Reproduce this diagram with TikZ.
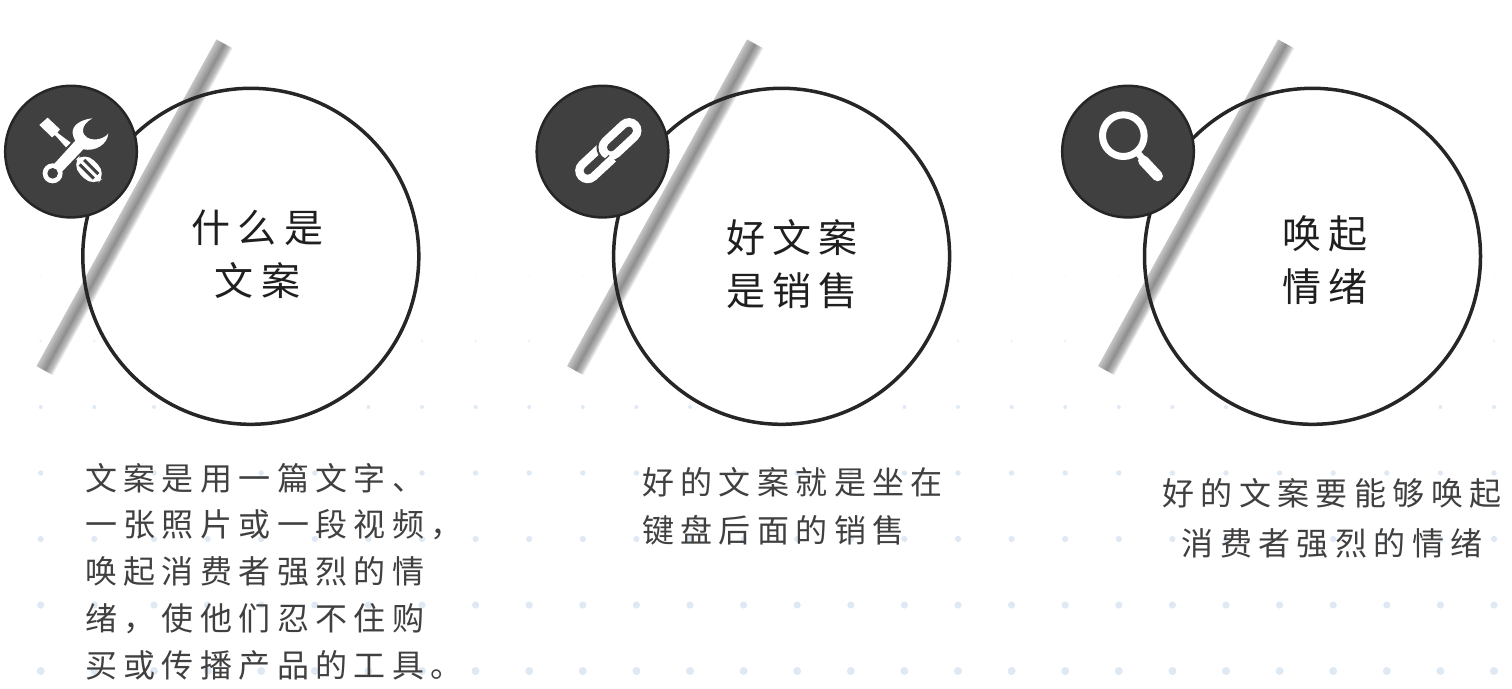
\documentclass[tikz,border=0pt]{standalone}
\usepackage{fontspec}
\newfontfamily\titlecjk[LetterSpace=19]{Noto Sans CJK SC}
\newfontfamily\bodycjk[LetterSpace=20]{Noto Sans CJK SC}
\definecolor{dotblue}{HTML}{DFE9F4}
\definecolor{ringdark}{HTML}{262626}
\definecolor{badgefill}{HTML}{404040}
\definecolor{bandA}{HTML}{C4C4C4}
\definecolor{bandB}{HTML}{8E8E8E}
\definecolor{bandC}{HTML}{BEBEBE}
\pgfdeclarehorizontalshading{bandshade}{100bp}{color(0bp)=(bandA); color(25bp)=(bandA); color(49bp)=(bandB); color(64bp)=(bandC); color(75bp)=(white); color(100bp)=(white)}
\tikzset{
  ringline/.style={draw=ringdark,line width=3.5pt},
  badgedisc/.style={fill=badgefill,draw=ringdark,line width=2.5pt},
  iconwhite/.style={fill=white,draw=none},
  icondark/.style={fill=badgefill,draw=none},
  titletext/.style={inner sep=0pt,align=center,text=black!88,font=\titlecjk\fontsize{39}{53}\selectfont},
  bodytext/.style={inner sep=0pt,text=badgefill},
  iconscale/.style={x=0.3333pt,y=-0.3333pt}
}
\newcommand{\groupbase}[3]{% big circle centre x, band offset, badge centre x
  \fill[white] (#1,256.3) circle[radius=168];
  \begin{scope}[transform canvas={shift={(134.6pt+#2pt,-207.25pt)},rotate=-28.85}]
    \shade[shading=bandshade,shading angle=0] (-9.3,-186.5) rectangle (9.3,186.5);
  \end{scope}
  \draw[ringline] (#1,256.3) circle[radius=168];
  \draw[badgedisc] (#3,151.6) circle[radius=65.8];
}
\begin{document}
\begin{tikzpicture}[x=1pt,y=-1pt]
\useasboundingbox (0,0) rectangle (1512,688);
% dot field
\foreach \yy/\rr/\oo in {671/4/1,605/3.6/1,539/3.1/1,473/2.7/1,407/2/1,341/1.6/.6,275/1.5/.22,209/1.5/.08}{
  \foreach \xx in {40.7,94.3}{\fill[dotblue,opacity=\oo] (\xx,\yy) circle[radius=\rr];}
  \foreach \kk in {0,...,25}{\fill[dotblue,opacity=\oo] ({154+53.6*\kk},\yy) circle[radius=\rr];}
}
\groupbase{250.8}{0}{71}
\groupbase{781.6}{530.6}{602.5}
\groupbase{1312.5}{1061.6}{1128}
% tools icon
\begin{scope}[shift={(0,90)},iconscale]
  \fill[iconwhite] (118,105) -- (143,83) -- (180,118) -- (172,128) -- (212,158) -- (198,172) -- (165,135) -- (156,142) -- cycle;
  \begin{scope}[shift={(267,238)},rotate=-45]
    \fill[iconwhite,rounded corners=13] (-48,-29) rectangle (48,29);
    \fill[icondark] (-30,-14) rectangle (30,-5);
    \fill[icondark] (-30,5) rectangle (30,14);
  \end{scope}
  \draw[iconwhite,draw=badgefill,line width=2.2pt] (277,85) .. controls (245,88) and (215,105) .. (218,130) .. controls (219,140) and (222,146) .. (226,152) -- (146,240) -- (170,262) -- (250,178) .. controls (285,185) and (322,165) .. (325,130) .. controls (315,145) and (285,155) .. (262,143) .. controls (245,135) and (240,105) .. (277,85) -- cycle;
  \fill[iconwhite] (277,85) .. controls (245,88) and (215,105) .. (218,130) .. controls (219,140) and (222,146) .. (226,152) -- (146,240) -- (170,262) -- (250,178) .. controls (285,185) and (322,165) .. (325,130) .. controls (315,145) and (285,155) .. (262,143) .. controls (245,135) and (240,105) .. (277,85) -- cycle;
  \fill[iconwhite] (158,250) circle[radius=30];
  \fill[icondark] (158,250) circle[radius=16];
\end{scope}
% link icon
\begin{scope}[shift={(530,90)},iconscale]
  \begin{scope}[shift={(200,217)},rotate=43]
    \draw[white,line width=25pt,line cap=round] (-37,0) -- (37,0);
    \draw[badgefill,line width=8pt,line cap=round] (-37,0) -- (37,0);
  \end{scope}
  \begin{scope}[shift={(270,147)},rotate=43]
    \draw[badgefill,line width=29pt,line cap=round] (-37,0) -- (37,0);
    \draw[white,line width=25pt,line cap=round] (-37,0) -- (37,0);
    \draw[badgefill,line width=8pt,line cap=round] (-37,0) -- (37,0);
  \end{scope}
  \begin{scope}[shift={(200,217)},rotate=43]
    \draw[badgefill,line width=11pt] (10,25) -- (42,25);
    \draw[white,line width=8.5pt] (8,25) -- (44,25);
  \end{scope}
\end{scope}
% magnifier icon
\begin{scope}[shift={(1055,90)},iconscale]
  \draw[white,line width=7pt] (205,137) circle[radius=62.5];
  \draw[white,line width=6.5pt] (245,185) -- (265,208);
  \draw[white,line width=10.6pt,line cap=round] (265,212) -- (308,258);
\end{scope}
% titles
\node[titletext] (t1) at (257.5,254) {什么是\\文案};
\node[titletext] (t2) at (792,264) {好文案\\是销售};
\node[titletext] (t3) at (1325,260) {唤起\\情绪};
% body text
\node[bodytext,anchor=west,align=left,font=\bodycjk\fontsize{32}{46.7}\selectfont] (b1) at (85,571.5) {文案是用一篇文字、\\一张照片或一段视频，\\唤起消费者强烈的情\\绪，使他们忍不住购\\买或传播产品的工具。};
\node[bodytext,anchor=west,align=left,font=\bodycjk\fontsize{32}{48}\selectfont] (b2) at (642,506) {好的文案就是坐在\\键盘后面的销售};
\node[bodytext,anchor=center,align=center,font=\bodycjk\fontsize{32}{50}\selectfont] (b3) at (1332,518.5) {好的文案要能够唤起\\消费者强烈的情绪};
\end{tikzpicture}
\end{document}
